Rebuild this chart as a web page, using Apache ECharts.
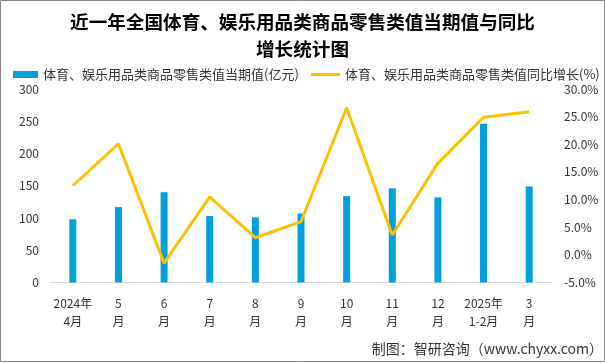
<!DOCTYPE html>
<html><head><meta charset="utf-8">
<script src="https://cdn.jsdelivr.net/npm/echarts@6/dist/echarts.min.js"></script>
<style>html,body{margin:0;padding:0;background:#fff}#c{width:605px;height:363px}</style>
</head><body><div id="c"></div>
<script>
var categories = ['2024年\n4月','5\n月','6\n月','7\n月','8\n月','9\n月','10\n月','11\n月','12\n月','2025年\n1-2月','3\n月'];
var valueSeries = [98, 117, 140, 103, 101, 107, 134, 146, 132, 246, 149];
var growthSeries = [12.5, 20.1, -1.5, 10.5, 3.1, 6.0, 26.6, 3.6, 16.6, 24.9, 25.9];
var leftTicks = [0, 300, 50];
var rightTicks = [-5, 30, 5];
var font = '"Noto Sans CJK SC", "Microsoft YaHei", sans-serif';
var chart = echarts.init(document.getElementById('c'));
var legendText = {fontSize: 13, color: '#333', fontFamily: font};
chart.setOption({
  animation: false,
  textStyle: {fontFamily: font},
  title: {
    text: '近一年全国体育、娱乐用品类商品零售类值当期值与同比\n增长统计图',
    left: 'center', top: 9, padding: 0,
    textStyle: {fontSize: 18.6, fontWeight: 'bold', color: '#000', lineHeight: 26.5, fontFamily: font}
  },
  legend: [
    {top: 68, left: 13, padding: 0, itemWidth: 25, itemHeight: 7, itemGap: 4, textStyle: legendText,
     data: [{name: '体育、娱乐用品类商品零售类值当期值(亿元)', icon: 'rect'}]},
    {top: 68, left: 311, padding: 0, itemWidth: 29, itemHeight: 3, textStyle: legendText,
     data: [{name: '体育、娱乐用品类商品零售类值同比增长(%)', icon: 'rect'}]}
  ],
  graphic: [
    {type: 'rect', shape: {x: 0.5, y: 0.5, width: 604, height: 361}, style: {fill: 'none', stroke: '#888', lineWidth: 1}},
    {type: 'text', right: 2, top: 342, style: {text: '制图：智研咨询（www.chyxx.com）', fontSize: 14, fill: '#333', fontFamily: font}}
  ],
  grid: {left: 50, right: 53, top: 89, bottom: 80.5},
  xAxis: {
    type: 'category', data: categories,
    axisLine: {lineStyle: {color: '#d9d9d9', width: 1}},
    axisTick: {show: false},
    axisLabel: {color: '#333', fontSize: 12, lineHeight: 18, margin: 12, interval: 0, fontFamily: font}
  },
  yAxis: [
    {type: 'value', min: leftTicks[0], max: leftTicks[1], interval: leftTicks[2],
     splitLine: {show: false}, axisLine: {show: false}, axisTick: {show: false},
     axisLabel: {color: '#333', fontSize: 12, margin: 11, fontFamily: font}},
    {type: 'value', min: rightTicks[0], max: rightTicks[1], interval: rightTicks[2],
     splitLine: {show: false}, axisLine: {show: false}, axisTick: {show: false},
     axisLabel: {color: '#333', fontSize: 12, margin: 12, fontFamily: font,
       formatter: function(v){ return v.toFixed(1) + '%'; }}}
  ],
  series: [
    {name: '体育、娱乐用品类商品零售类值当期值(亿元)', type: 'bar', data: valueSeries, barWidth: 7,
     itemStyle: {color: '#00A0DC'}},
    {name: '体育、娱乐用品类商品零售类值同比增长(%)', type: 'line', yAxisIndex: 1, data: growthSeries,
     symbol: 'none', lineStyle: {color: '#FFC000', width: 3}, itemStyle: {color: '#FFC000'}}
  ]
});
</script></body></html>
